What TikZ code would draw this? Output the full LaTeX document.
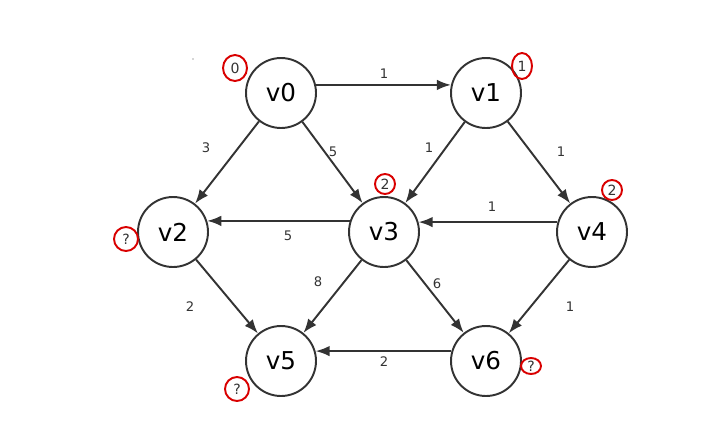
\documentclass[tikz,border=0pt]{standalone}
\usepackage{fontspec}
\setmainfont{DejaVu Sans}
\usetikzlibrary{arrows.meta,shapes.geometric}
\tikzset{
  vert/.style={circle,draw=black!80,line width=1.1pt,minimum size=1.4cm,inner sep=0pt,font=\fontsize{14}{14}\selectfont},
  edge/.style={draw=black!80,line width=1.1pt,-{Latex[length=8pt,width=6pt]}},
  wt/.style={font=\fontsize{7.5}{8}\selectfont,text=black!80,inner sep=1pt},
  dist/.style={ellipse,draw=red!85!black,line width=1.1pt,inner sep=0pt,font=\fontsize{8}{8}\selectfont,text=black!80}
}
\begin{document}
\begin{tikzpicture}[x=0.02cm,y=-0.02cm]
    \useasboundingbox (0,0) rectangle (724,440);
    \fill[black!70] (193,59) circle (0.6);
    % vertices
    \node[vert] (v0) at (281,93) {v0};
    \node[vert] (v1) at (486,93) {v1};
    \node[vert] (v2) at (173,232) {v2};
    \node[vert] (v3) at (384,232) {v3};
    \node[vert] (v4) at (592,232) {v4};
    \node[vert] (v5) at (281,361) {v5};
    \node[vert] (v6) at (486,361) {v6};
    % edges
    \draw[edge] (v0.13) -- (v1.167);
    \draw[edge] (v0) -- (v2);
    \draw[edge] (v0) -- (v3);
    \draw[edge] (v1) -- (v3);
    \draw[edge] (v1) -- (v4);
    \draw[edge] (v3.162) -- (v2.18);
    \draw[edge] (v4.164) -- (v3.16);
    \draw[edge] (v2) -- (v5);
    \draw[edge] (v3) -- (v5);
    \draw[edge] (v3) -- (v6);
    \draw[edge] (v4) -- (v6);
    \draw[edge] (v6.164) -- (v5.16);
    % weights
    \node[wt] (w01) at (384,74) {1};
    \node[wt] (w02) at (206,148) {3};
    \node[wt] (w03) at (333,152) {5};
    \node[wt] (w13) at (429,148) {1};
    \node[wt] (w14) at (561,152) {1};
    \node[wt] (w32) at (288,236) {5};
    \node[wt] (w43) at (492,207) {1};
    \node[wt] (w25) at (190,307) {2};
    \node[wt] (w35) at (318,282) {8};
    \node[wt] (w36) at (437,284) {6};
    \node[wt] (w46) at (570,307) {1};
    \node[wt] (w65) at (384,362) {2};
    % distances
    \node[dist,minimum width=0.48cm,minimum height=0.52cm] (d0) at (235,68) {0};
    \node[dist,minimum width=0.4cm,minimum height=0.52cm] (d1) at (522,66) {1};
    \node[dist,minimum width=0.4cm,minimum height=0.4cm] (d3) at (385,184) {2};
    \node[dist,minimum width=0.4cm,minimum height=0.4cm] (d4) at (612,190) {2};
    \node[dist,minimum width=0.48cm,minimum height=0.48cm] (d2) at (126,239) {?};
    \node[dist,minimum width=0.48cm,minimum height=0.48cm] (d5) at (237,389) {?};
    \node[dist,minimum width=0.4cm,minimum height=0.32cm] (d6) at (531,366) {?};
\end{tikzpicture}
\end{document}
